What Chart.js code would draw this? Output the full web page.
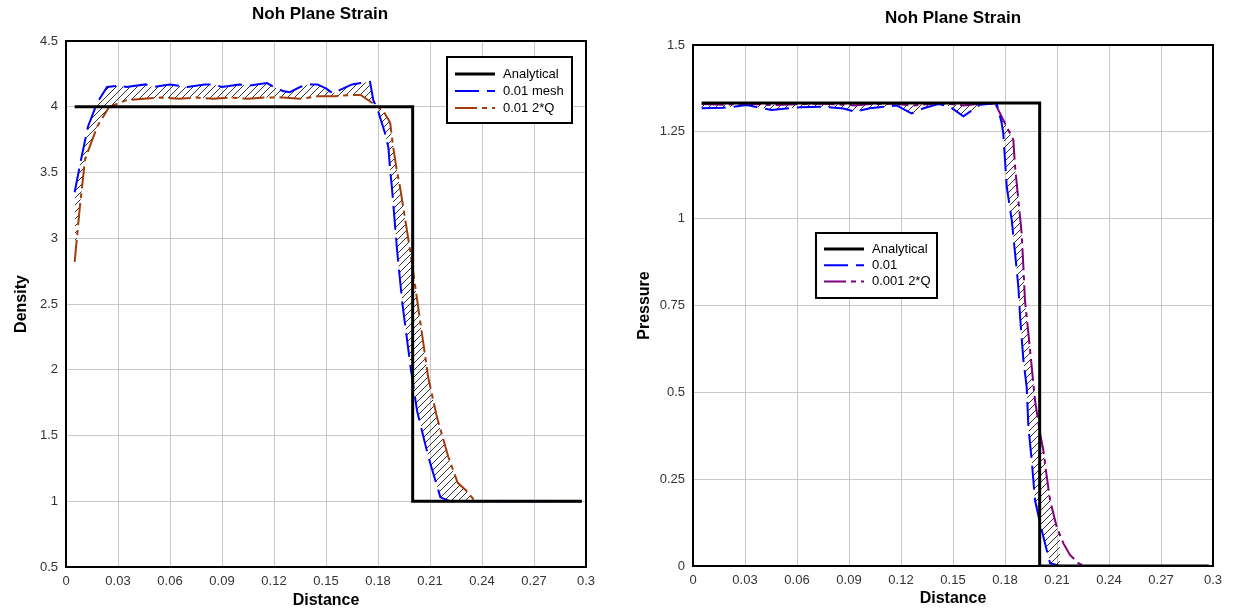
<!DOCTYPE html>
<html>
<head>
<meta charset="utf-8">
<script src="https://cdn.jsdelivr.net/npm/chart.js@4.4.1/dist/chart.umd.min.js"></script>
<style>
  body { margin: 0; background: #fff; }
  canvas { position: absolute; top: 0; }
  #density { left: 0; }
  #pressure { left: 620px; }
</style>
</head>
<body>
<canvas id="density" width="620" height="611"></canvas>
<canvas id="pressure" width="613" height="611"></canvas>
<script>
const FONT = '"Liberation Sans", Arial, sans-serif'
Chart.defaults.font.family = FONT
Chart.defaults.color = '#333'

// tick labels
const distTicks = [0, 0.03, 0.06, 0.09, 0.12, 0.15, 0.18, 0.21, 0.24, 0.27, 0.3]
const densityTicks = [0.5, 1, 1.5, 2, 2.5, 3, 3.5, 4, 4.5]
const pressureTicks = [0, 0.25, 0.5, 0.75, 1, 1.25, 1.5]

// density: analytical step + two runs
const denExactX = [0.005, 0.2, 0.2, 0.2975]
const denExactY = [4, 4, 1, 1]

const denMeshX = [0.005, 0.0087, 0.0127, 0.018, 0.0237, 0.03, 0.035, 0.04, 0.046, 0.05,
  0.055, 0.06, 0.065, 0.07, 0.075, 0.08, 0.085, 0.09, 0.095, 0.1,
  0.105, 0.11, 0.116, 0.12, 0.125, 0.129, 0.135, 0.14, 0.145, 0.15,
  0.154, 0.16, 0.165, 0.17, 0.1754, 0.1773, 0.18, 0.184, 0.186, 0.187,
  0.188, 0.191, 0.194, 0.199, 0.2025, 0.209, 0.216, 0.2215, 0.2975]
const denMeshY = [3.35, 3.6, 3.85, 4.03, 4.15, 4.16, 4.15, 4.16, 4.17, 4.15,
  4.16, 4.17, 4.16, 4.15, 4.16, 4.17, 4.17, 4.15, 4.16, 4.17,
  4.16, 4.17, 4.18, 4.15, 4.12, 4.11, 4.15, 4.17, 4.17, 4.14,
  4.10, 4.14, 4.17, 4.18, 4.19, 4.05, 3.97, 3.80, 3.69, 3.52,
  3.39, 2.91, 2.51, 2.00, 1.69, 1.34, 1.03, 1.00, 1.00]

const den2QX = [0.005, 0.008, 0.011, 0.018, 0.025, 0.035, 0.045, 0.055, 0.065, 0.075,
  0.085, 0.095, 0.105, 0.115, 0.125, 0.135, 0.145, 0.155, 0.165, 0.17,
  0.1755, 0.183, 0.187, 0.1888, 0.1908, 0.1927, 0.1985, 0.204, 0.209, 0.214,
  0.2205, 0.226, 0.231, 0.236, 0.2975]
const den2QY = [2.82, 3.24, 3.6, 3.85, 4.0, 4.05, 4.06, 4.07, 4.06, 4.07,
  4.06, 4.07, 4.06, 4.07, 4.07, 4.06, 4.08, 4.08, 4.09, 4.09,
  4.04, 3.97, 3.88, 3.69, 3.52, 3.39, 2.91, 2.40, 1.94, 1.64,
  1.34, 1.14, 1.08, 1.00, 1.00]

// pressure: analytical step + two runs
const preExactX = [0.005, 0.2, 0.2, 0.2975]
const preExactY = [1.3333, 1.3333, 0, 0]

const preMeshX = [0.005, 0.0175, 0.031, 0.0454, 0.0617, 0.075, 0.0867, 0.0935, 0.102, 0.1175,
  0.126, 0.133, 0.1415, 0.148, 0.156, 0.1656, 0.1752, 0.1781, 0.179, 0.181,
  0.1839, 0.1858, 0.1877, 0.1887, 0.1906, 0.1925, 0.1935, 0.1954, 0.1973, 0.2002,
  0.2031, 0.206, 0.2117]
const preMeshY = [1.318, 1.319, 1.327, 1.313, 1.321, 1.322, 1.317, 1.308, 1.318, 1.326,
  1.303, 1.318, 1.33, 1.323, 1.295, 1.328, 1.332, 1.275, 1.246, 1.092,
  0.996, 0.9, 0.804, 0.718, 0.593, 0.516, 0.401, 0.305, 0.19, 0.123,
  0.065, 0.008, 0]

const pre2QX = [0.005, 0.0175, 0.031, 0.0454, 0.0617, 0.075, 0.0867, 0.0935, 0.102, 0.1175,
  0.126, 0.133, 0.1415, 0.148, 0.156, 0.1656, 0.1742, 0.179, 0.1848, 0.1858,
  0.1877, 0.1896, 0.1906, 0.1915, 0.1935, 0.1954, 0.1973, 0.2002, 0.2021, 0.2041,
  0.206, 0.2098, 0.2137, 0.2175, 0.2223, 0.226]
const pre2QY = [1.33, 1.328, 1.331, 1.327, 1.33, 1.331, 1.328, 1.326, 1.33, 1.331,
  1.325, 1.329, 1.332, 1.33, 1.326, 1.331, 1.333, 1.284, 1.227, 1.15,
  1.054, 0.958, 0.862, 0.766, 0.67, 0.574, 0.478, 0.382, 0.334, 0.257,
  0.19, 0.113, 0.065, 0.032, 0.008, 0]

const pts = (xs, ys) => xs.map((x, i) => ({x: x, y: ys[i]}))

// diagonal hatch used between the two runs
function hatch() {
  const c = document.createElement('canvas')
  c.width = c.height = 7
  const g = c.getContext('2d')
  g.strokeStyle = '#333'
  g.lineWidth = 1
  g.beginPath()
  g.moveTo(-1, 8); g.lineTo(8, -1)
  g.moveTo(-1, 1); g.lineTo(1, -1)
  g.moveTo(6, 8); g.lineTo(8, 6)
  g.stroke()
  return g.createPattern(c, 'repeat')
}

const frame = {
  id: 'frame',
  afterDatasetsDraw(chart) {
    const {ctx, chartArea: a} = chart
    ctx.save()
    ctx.strokeStyle = '#000'
    ctx.lineWidth = 2
    ctx.strokeRect(a.left, a.top, a.right - a.left, a.bottom - a.top)
    ctx.restore()
  }
}

const heading = {
  id: 'heading',
  afterDraw(chart, args, o) {
    const ctx = chart.ctx
    ctx.save()
    ctx.font = 'bold 17px ' + FONT
    ctx.fillStyle = '#000'
    ctx.textAlign = 'center'
    ctx.textBaseline = 'middle'
    ctx.fillText(o.text, o.x, o.y)
    ctx.restore()
  }
}

const keyBox = {
  id: 'keyBox',
  afterDraw(chart, args, o) {
    const ctx = chart.ctx
    ctx.save()
    ctx.fillStyle = '#fff'
    ctx.fillRect(o.x, o.y, o.w, o.h)
    ctx.strokeStyle = '#000'
    ctx.lineWidth = 2
    ctx.strokeRect(o.x, o.y, o.w, o.h)
    ctx.font = '13px ' + FONT
    ctx.textBaseline = 'middle'
    chart.data.datasets.forEach((ds, i) => {
      const y = o.y + o.first + i * o.step
      ctx.strokeStyle = ds.borderColor
      ctx.lineWidth = ds.borderWidth
      ctx.setLineDash(ds.borderDash || [])
      ctx.beginPath()
      ctx.moveTo(o.x + 8, y)
      ctx.lineTo(o.x + 48, y)
      ctx.stroke()
      ctx.setLineDash([])
      ctx.fillStyle = '#000'
      ctx.fillText(ds.label, o.x + 56, y)
    })
    ctx.restore()
  }
}

function line(label, data, color, width, dash) {
  return {
    label: label,
    data: data,
    borderColor: color,
    borderWidth: width,
    borderDash: dash,
    pointRadius: 0,
    fill: false
  }
}

function setChart(el, p) {
  const datasets = [
    line('Analytical', p.exact, '#000', 3, []),
    line(p.names[0], p.mesh, '#0000ff', 2, [24, 8]),
    line(p.names[1], p.q2, p.qColor, 2, [22, 5, 5, 5])
  ]
  datasets[2].fill = '-1'
  datasets[2].backgroundColor = hatch()

  new Chart(el, {
    type: 'line',
    data: {datasets: datasets},
    options: {
      responsive: false,
      animation: false,
      devicePixelRatio: 1,
      layout: {padding: {top: p.top, right: p.right, left: 0, bottom: 0}},
      plugins: {
        legend: {display: false},
        tooltip: {enabled: false},
        heading: p.heading,
        keyBox: p.key
      },
      scales: {
        x: {
          type: 'linear',
          min: 0,
          max: 0.3,
          afterBuildTicks: s => { s.ticks = distTicks.map(v => ({value: v})) },
          afterFit: s => { s.height = p.xHeight },
          ticks: {font: {size: 13}, padding: 7, maxRotation: 0, callback: v => String(v)},
          grid: {color: '#c8c8c8', drawTicks: false},
          border: {display: false},
          title: {display: true, text: 'Distance', color: '#000',
            font: {size: 16, weight: 'bold'}, padding: {top: 0, bottom: p.xTitlePad}}
        },
        y: {
          type: 'linear',
          min: p.yTicks[0],
          max: p.yTicks[p.yTicks.length - 1],
          afterBuildTicks: s => { s.ticks = p.yTicks.map(v => ({value: v})) },
          afterFit: s => { s.width = p.yWidth },
          ticks: {font: {size: 13}, padding: 8, callback: v => String(v)},
          grid: {color: '#c8c8c8', drawTicks: false},
          border: {display: false},
          title: {display: true, text: p.yTitle, color: '#000',
            font: {size: 16, weight: 'bold'}, padding: {top: p.yTitlePad, bottom: 0}}
        }
      }
    },
    plugins: [frame, heading, keyBox]
  })
}

setChart(document.getElementById('density'), {
  exact: pts(denExactX, denExactY),
  mesh: pts(denMeshX, denMeshY),
  q2: pts(den2QX, den2QY),
  names: ['0.01 mesh', '0.01 2*Q'],
  qColor: '#a33c08',
  yTicks: densityTicks,
  yTitle: 'Density',
  top: 41, right: 34, yWidth: 66, xHeight: 44,
  xTitlePad: 1, yTitlePad: 12,
  heading: {text: 'Noh Plane Strain', x: 320, y: 14},
  key: {x: 447, y: 57, w: 125, h: 66, first: 17, step: 17}
})

setChart(document.getElementById('pressure'), {
  exact: pts(preExactX, preExactY),
  mesh: pts(preMeshX, preMeshY),
  q2: pts(pre2QX, pre2QY),
  names: ['0.01', '0.001 2*Q'],
  qColor: '#800080',
  yTicks: pressureTicks,
  yTitle: 'Pressure',
  top: 45, right: 20, yWidth: 73, xHeight: 45,
  xTitlePad: 3, yTitlePad: 15,
  heading: {text: 'Noh Plane Strain', x: 333, y: 18},
  key: {x: 196, y: 233, w: 121, h: 65, first: 16, step: 16.3}
})
</script>
</body>
</html>
